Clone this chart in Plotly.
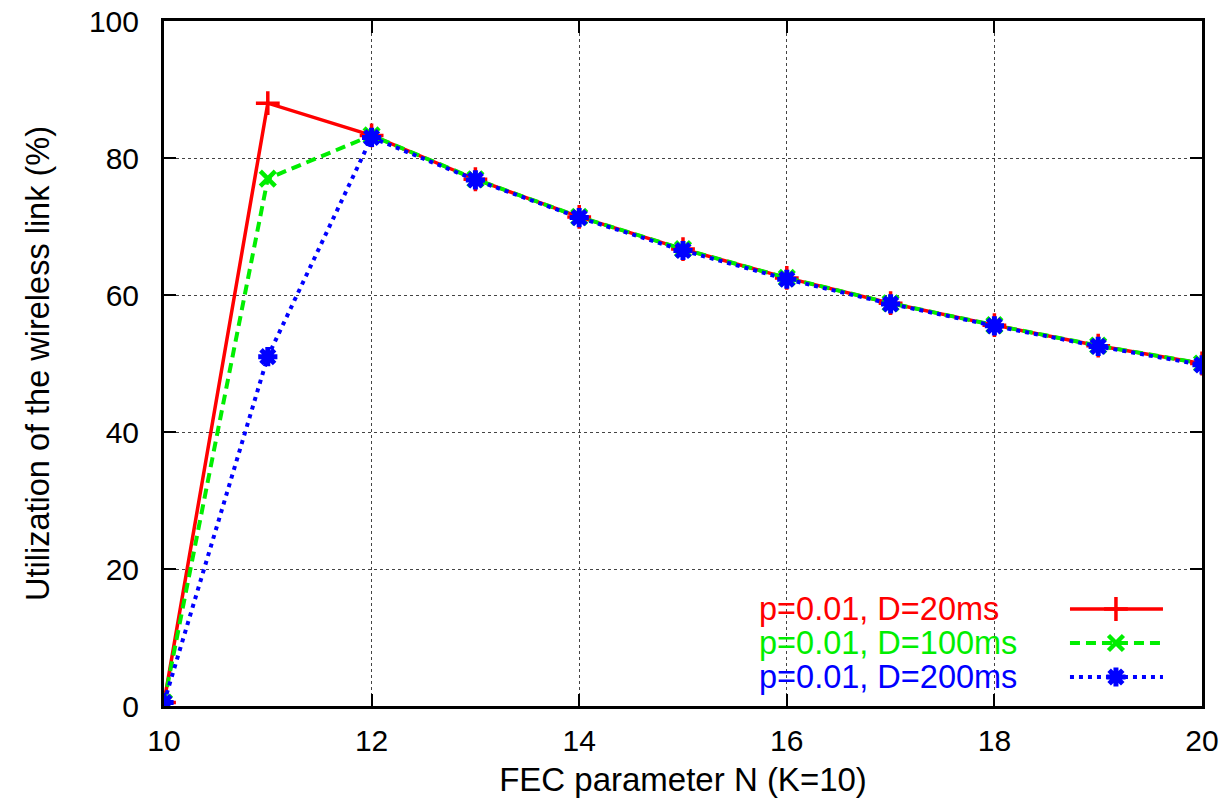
import plotly.graph_objects as go

N = [10, 11, 12, 13, 14, 15, 16, 17, 18, 19, 20]
util_d20 = [0.5, 88.0, 83.3, 76.9, 71.4, 66.7, 62.5, 58.8, 55.6, 52.6, 50.0]
util_d100 = [0.5, 77.0, 83.3, 76.9, 71.4, 66.7, 62.5, 58.8, 55.6, 52.6, 50.0]
util_d200 = [0.5, 51.0, 83.0, 76.8, 71.3, 66.5, 62.3, 58.7, 55.5, 52.5, 49.8]
names = ["p=0.01, D=20ms", "p=0.01, D=100ms", "p=0.01, D=200ms"]
x_ticks = [10, 12, 14, 16, 18, 20]
y_ticks = [0, 20, 40, 60, 80, 100]

colors = ["#ff0000", "#00ee00", "#0000ff"]
dashes = ["solid", "10px,6px", "4px,5px"]
widths = [3.5, 4, 4]
symbols = ["cross-thin-open", "x-thin-open", "asterisk-open"]
msizes = [17, 15, 16]
mwidths = [3.5, 4.5, 5]
series = [util_d20, util_d100, util_d200]

FONT = "Liberation Sans, Arial, Helvetica, sans-serif"

fig = go.Figure()
for y, c, d, w, s, ms, mw, nm in zip(series, colors, dashes, widths, symbols, msizes, mwidths, names):
    fig.add_trace(go.Scatter(
        x=N, y=y, mode="lines+markers", name=nm,
        line=dict(color=c, width=w, dash=d),
        marker=dict(symbol=s, size=ms, color=c, line=dict(color=c, width=mw)),
        showlegend=False,
    ))

# custom legend: text on the left, line sample on the right
leg_y = [0.1416, 0.0920, 0.0423]
txt_x = 0.5713
ln_x0, ln_x1, mk_x = 0.8728, 0.9624, 0.9171
for i, (c, d, w, s, ms, mw, nm) in enumerate(zip(colors, dashes, widths, symbols, msizes, mwidths, names)):
    fig.add_annotation(x=txt_x, y=leg_y[i], xref="paper", yref="paper",
                       text=nm, showarrow=False, xanchor="left", yanchor="middle",
                       font=dict(family=FONT, size=32.5, color=c))
    fig.add_shape(type="line", xref="paper", yref="paper",
                  x0=ln_x0, x1=ln_x1, y0=leg_y[i], y1=leg_y[i],
                  line=dict(color=c, width=w, dash=d))
    fig.add_trace(go.Scatter(
        x=[mk_x], y=[leg_y[i]], xaxis="x2", yaxis="y2", mode="markers",
        marker=dict(symbol=s, size=ms, color=c, line=dict(color=c, width=mw)),
        showlegend=False, hoverinfo="skip",
    ))

axis_common = dict(
    showline=True, linecolor="black", linewidth=3, mirror="ticks",
    ticks="inside", ticklen=12, tickwidth=2, tickcolor="black",
    showgrid=True, gridcolor="#444444", gridwidth=1, griddash="dot",
    zeroline=False, automargin=False,
    tickfont=dict(family=FONT, size=30, color="black"),
)

fig.update_layout(
    width=1230, height=806,
    margin=dict(l=164, r=28, t=21, b=100),
    paper_bgcolor="white", plot_bgcolor="white",
    xaxis=dict(range=[10, 20], tickvals=x_ticks, ticklabelstandoff=6,
               title=dict(text="FEC parameter N (K=10)", standoff=12,
                          font=dict(family=FONT, size=33, color="black")),
               **axis_common),
    yaxis=dict(range=[0, 100], tickvals=y_ticks, ticklabelstandoff=16,
               title=dict(text="Utilization of the wireless link (%)", standoff=30,
                          font=dict(family=FONT, size=32.5, color="black")),
               **axis_common),
    xaxis2=dict(range=[0, 1], overlaying="x", visible=False, fixedrange=True),
    yaxis2=dict(range=[0, 1], overlaying="y", visible=False, fixedrange=True),
)

fig.write_html("out.html")
